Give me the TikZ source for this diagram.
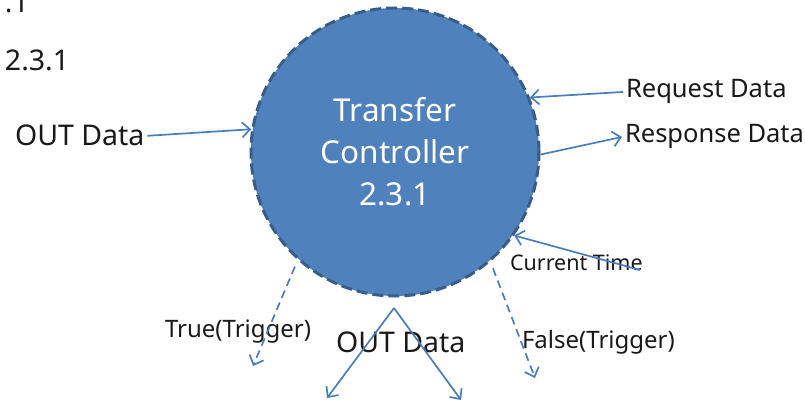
\documentclass[tikz,border=0pt]{standalone}
\usepackage{fontspec}
\setmainfont{Noto Sans}
\usetikzlibrary{arrows.meta}
\definecolor{ctrlfill}{HTML}{4F81BD}
\definecolor{ctrlline}{HTML}{385D8A}
\definecolor{flowline}{HTML}{4A7EBB}
\begin{document}
\begin{tikzpicture}[x=1pt,y=-1pt,>={Straight Barb[length=8pt,width=15pt]},
  every node/.style={inner sep=1pt,outer sep=2pt,text=black!90},
  lbl/.style={font=\fontsize{25.5}{30}\selectfont,anchor=base west},
  big/.style={font=\fontsize{28.5}{34}\selectfont,anchor=base west},
  small/.style={font=\fontsize{21.5}{26}\selectfont,anchor=base west},
  trig/.style={font=\fontsize{24}{29}\selectfont,anchor=base west},
  flow/.style={->,draw=flowline,line width=1.7pt},
  cond/.style={flow,dash pattern=on 8pt off 5pt}]
  \clip (0,0) rectangle (805,403);
  % process bubble
  \node[circle,minimum size=288pt,inner sep=0pt,outer sep=1.5pt,fill=ctrlfill,draw=ctrlline,
        line width=3pt,dash pattern=on 11pt off 5pt,text=white,align=center,
        font=\fontsize{31.5}{42}\selectfont] (ctrl) at (395,152) {Transfer\\Controller\\2.3.1};
  \node[big] (cut) at (2,13) {.1};
  \node[big] (num) at (2,71) {2.3.1};
  \node[big] (outl) at (12,146) {OUT Data};
  \node[lbl] (req) at (623,98) {Request Data};
  \node[lbl] (resp) at (622,143) {Response Data};
  \node[small] (cur) at (507,270) {Current Time};
  \node[trig] (tru) at (162,337) {True(Trigger)};
  \node[trig] (fls) at (519,348) {False(Trigger)};
  \node[big] (outb) at (333,352) {OUT Data};
  \coordinate (curend) at (640,270);
  \coordinate (truend) at (253,366);
  \coordinate (flsend) at (535,378);
  \coordinate (fork) at (394,308);
  \coordinate (outbl) at (327,398);
  \coordinate (outbr) at (461,400);
  % flows
  \draw[flow] (outl.east) -- (ctrl.171);
  \draw[flow] (req.west) -- (ctrl.22);
  \draw[flow] (ctrl.-1) -- (resp.west);
  \draw[flow] (curend) -- (ctrl.-35);
  \draw[cond,shorten <=7pt] (ctrl.228) -- (truend);
  \draw[cond,shorten <=7pt] (ctrl.-49) -- (flsend);
  \draw[flow] (fork) -- (outbl);
  \draw[flow] (fork) -- (outbr);
\end{tikzpicture}
\end{document}
